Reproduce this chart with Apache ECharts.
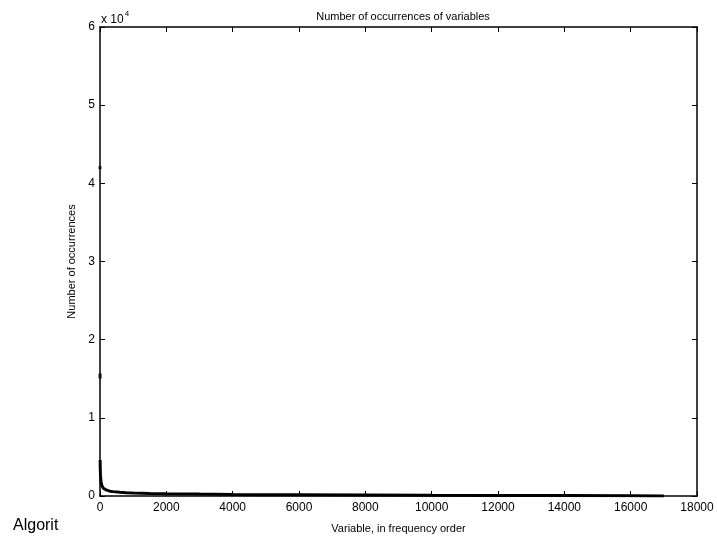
<!DOCTYPE html>
<html>
<head>
<meta charset="utf-8">
<script src="https://cdn.jsdelivr.net/npm/echarts@6/dist/echarts.min.js"></script>
<style>html,body{margin:0;padding:0;background:#fff}#c{width:717px;height:544px}</style>
</head>
<body>
<div id="c"></div>
<script>
// Data (rank in frequency order, number of occurrences)
const topRanks  = [1, 2, 3];
const topCounts = [42000, 15500, 15200];
const ranks  = [4, 5, 6, 8, 10, 15, 20, 30, 40, 60, 80, 100, 150, 200, 300, 400, 600, 800, 1000, 1500, 2000, 3000, 4000, 5000, 6000, 8000, 10000, 12000, 14000, 16000, 17000];
const counts = [4600, 4300, 4000, 3600, 3200, 2700, 2300, 1900, 1600, 1300, 1100, 1000, 850, 750, 620, 560, 480, 430, 390, 330, 290, 240, 200, 170, 150, 120, 90, 70, 50, 30, 10];
const xTicks = [0, 2000, 4000, 6000, 8000, 10000, 12000, 14000, 16000, 18000];
const yTicks = [0, 1, 2, 3, 4, 5, 6];

const chart = echarts.init(document.getElementById('c'), null, {renderer: 'canvas'});
const F = 'Liberation Sans, Arial, Helvetica, sans-serif';
function axisCommon() {
  return {
    axisLine: {show: true, onZero: false, lineStyle: {color: '#000', width: 1.5}},
    axisTick: {show: true, inside: true, length: 5, lineStyle: {color: '#000', width: 1}},
    splitLine: {show: false}
  };
}
chart.setOption({
  animation: false,
  backgroundColor: '#fff',
  title: {
    text: 'Number of occurrences of variables',
    left: 398, top: 6, textAlign: 'center',
    textStyle: {fontFamily: F, fontSize: 11, fontWeight: 'normal', color: '#000'}
  },
  grid: {left: 100, right: 20, top: 27, bottom: 48, show: false},
  xAxis: [
    Object.assign({
      type: 'value', min: 0, max: 18000, interval: 2000, position: 'bottom',
      name: 'Variable, in frequency order', nameLocation: 'middle', nameGap: 27,
      nameTextStyle: {fontFamily: F, fontSize: 11, color: '#000'},
      axisLabel: {fontFamily: F, fontSize: 12, color: '#000', margin: 6,
        formatter: v => String(xTicks[Math.round(v / 2000)])}
    }, axisCommon()),
    Object.assign({
      type: 'value', min: 0, max: 18000, interval: 2000, position: 'top',
      axisLabel: {show: false}
    }, axisCommon())
  ],
  yAxis: [
    Object.assign({
      type: 'value', min: 0, max: 60000, interval: 10000, position: 'left',
      name: 'Number of occurrences', nameLocation: 'middle', nameGap: 18,
      nameTextStyle: {fontFamily: F, fontSize: 11, color: '#000'},
      axisLabel: {fontFamily: F, fontSize: 12, color: '#000', margin: 5,
        formatter: v => String(yTicks[Math.round(v / 10000)])}
    }, axisCommon()),
    Object.assign({
      type: 'value', min: 0, max: 60000, interval: 10000, position: 'right',
      axisLabel: {show: false}
    }, axisCommon())
  ],
  graphic: [
    {
      type: 'text', left: 101, top: 10,
      style: {
        text: '{a|x 10}{b|4}',
        rich: {
          a: {fontFamily: F, fontSize: 12, fill: '#000', verticalAlign: 'bottom'},
          b: {fontFamily: F, fontSize: 8, fill: '#000', verticalAlign: 'top', padding: [0, 0, 8, 1]}
        }
      }
    },
    {
      type: 'text', left: 13, top: 518,
      style: {text: 'Algorit', fontFamily: F, fontSize: 16, fill: '#000'}
    }
  ],
  series: [
    {
      type: 'scatter',
      data: topRanks.map((r, i) => [r, topCounts[i]]),
      symbol: 'rect', symbolSize: [3, 3],
      itemStyle: {color: '#000'}
    },
    {
      type: 'line',
      data: ranks.map((r, i) => [r, counts[i]]),
      showSymbol: false,
      lineStyle: {color: '#000', width: 3},
      clip: true
    }
  ]
});
</script>
</body>
</html>
